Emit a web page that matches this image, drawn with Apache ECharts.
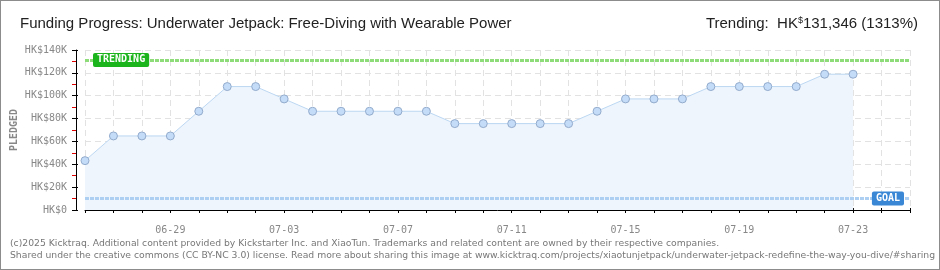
<!DOCTYPE html>
<html><head><meta charset="utf-8">
<script src="https://cdn.jsdelivr.net/npm/echarts@6/dist/echarts.min.js"></script>
<style>
html,body{margin:0;padding:0;background:#fff;}
#wrap{position:relative;width:940px;height:270px;}
#c{width:940px;height:270px;}
#b{position:absolute;left:0;top:0;width:938px;height:268px;border:1px solid #8c8c8c;pointer-events:none;}
</style></head>
<body><div id="wrap"><div id="c"></div><div id="b"></div></div>
<script>
const dates = ['06-26','06-27','06-28','06-29','06-30','07-01','07-02','07-03','07-04','07-05','07-06','07-07','07-08','07-09','07-10','07-11','07-12','07-13','07-14','07-15','07-16','07-17','07-18','07-19','07-20','07-21','07-22','07-23','07-24','07-25'];
const pledged = [43200,64800,64800,64800,86400,108000,108000,97200,86400,86400,86400,86400,86400,75600,75600,75600,75600,75600,86400,97200,97200,97200,108000,108000,108000,108000,118800,118800];
const goal = 10000;
const trending = 131346;
const yTicks = {min:0, max:140000, interval:20000};
const titleText = 'Funding Progress: Underwater Jetpack: Free-Diving with Wearable Power';
const footer1 = '(c)2025 Kicktraq. Additional content provided by Kickstarter Inc. and XiaoTun. Trademarks and related content are owned by their respective companies.';
const footer2 = 'Shared under the creative commons (CC BY-NC 3.0) license. Read more about sharing this image at www.kicktraq.com/projects/xiaotunjetpack/underwater-jetpack-redefine-the-way-you-dive/#sharing';

const chart = echarts.init(document.getElementById('c'), null, {renderer:'canvas'});
const pct = Math.round(trending/goal*100);
const trendStr = trending.toLocaleString('en-US');
const axisFont = "'DejaVu Sans Mono', monospace";
const titleFont = "'Liberation Sans', sans-serif";
chart.setOption({
  animation:false,
  title:[
    {text:titleText, left:20, top:16, padding:0, textStyle:{fontFamily:titleFont, fontSize:15, fontWeight:'normal', color:'#222'}},
    {text:'{a|Trending:  HK}{s|$}{a|' + trendStr + ' (' + pct + '%)}', right:22, top:16, padding:0,
      textStyle:{fontWeight:'normal', rich:{a:{fontFamily:titleFont, fontSize:15, fontWeight:'normal', color:'#222'}, s:{fontFamily:titleFont, fontSize:9, fontWeight:'normal', color:'#222', verticalAlign:'top', padding:[0,0,7,0]}}}},
    {text:footer1 + '\n' + footer2, left:10, top:238, padding:0, textStyle:{fontFamily:"'DejaVu Sans', sans-serif", fontSize:9.25, fontWeight:'normal', color:'#777', lineHeight:12}}
  ],
  grid:{left:85, right:30, top:50, bottom:60, containLabel:false, outerBoundsMode:'none'},
  xAxis:[
    {type:'category', data:dates, boundaryGap:false, offset:10,
     axisLine:{lineStyle:{color:'#000', width:1}},
     axisTick:{show:true, interval:0, length:3, lineStyle:{color:'#000'}},
     axisLabel:{interval:(i)=> (i-3)%4===0 && i>=3, color:'#888', fontFamily:axisFont, fontSize:10, margin:5},
     splitLine:{show:true, interval:0, lineStyle:{color:'#e2e2e2', type:[6,4]}}},
    {type:'category', data:dates, boundaryGap:false, offset:10, position:'bottom',
     axisLine:{show:false}, axisTick:{show:true, inside:true, interval:0, length:2, lineStyle:{color:'#000'}},
     axisLabel:{show:false}, splitLine:{show:false}}
  ],
  yAxis:[
    {type:'value', min:yTicks.min, max:yTicks.max, interval:yTicks.interval, offset:9,
     name:'PLEDGED', nameLocation:'middle', nameGap:57, nameRotate:90, nameMoveOverlap:false,
     nameTextStyle:{color:'#888', fontFamily:axisFont, fontSize:10, fontWeight:'bold'},
     axisLine:{show:true, lineStyle:{color:'#000', width:1}},
     axisTick:{show:true, length:4, lineStyle:{color:'#000'}},
     minorTick:{show:true, splitNumber:2, length:4, lineStyle:{color:'#e00000'}},
     axisLabel:{color:'#888', fontFamily:axisFont, fontSize:10, margin:9,
       formatter:(v)=> v===0 ? 'HK$0' : 'HK$' + (v/1000) + 'K'},
     splitLine:{show:true, lineStyle:{color:'#e2e2e2', type:[6,4]}}},
    {type:'value', min:yTicks.min, max:yTicks.max, interval:yTicks.interval, offset:9, position:'left',
     axisLine:{show:false}, axisTick:{show:true, inside:true, length:2, lineStyle:{color:'#000'}},
     axisLabel:{show:false}, splitLine:{show:false}}
  ],
  series:[{
    type:'line', data:pledged, xAxisIndex:0, yAxisIndex:0,
    symbol:'circle', symbolSize:8,
    lineStyle:{color:'#bcd7f2', width:1},
    itemStyle:{color:'#c4dcf7', borderColor:'#93abcc', borderWidth:1},
    areaStyle:{color:'#eef5fd', opacity:1},
    z:3,
    markLine:{
      silent:true, symbol:['none','none'], animation:false,
      data:[
        {yAxis:trending, lineStyle:{color:'#8edb7a', width:3, type:[4,1], opacity:1},
         label:{show:true, position:'insideStart', distance:[8,0], formatter:'TRENDING', color:'#fff', backgroundColor:'#1cb41c', padding:[2,4,2,4], borderRadius:2, fontFamily:axisFont, fontSize:10, fontWeight:'bold'}},
        {yAxis:goal, lineStyle:{color:'#add0f2', width:3, type:[4,1], opacity:1},
         label:{show:true, position:'insideEnd', distance:[6,0], formatter:'GOAL', color:'#fff', backgroundColor:'#3a87d6', padding:[2,4,2,4], borderRadius:2, fontFamily:axisFont, fontSize:10, fontWeight:'bold'}}
      ]
    }
  }]
});
</script></body></html>
